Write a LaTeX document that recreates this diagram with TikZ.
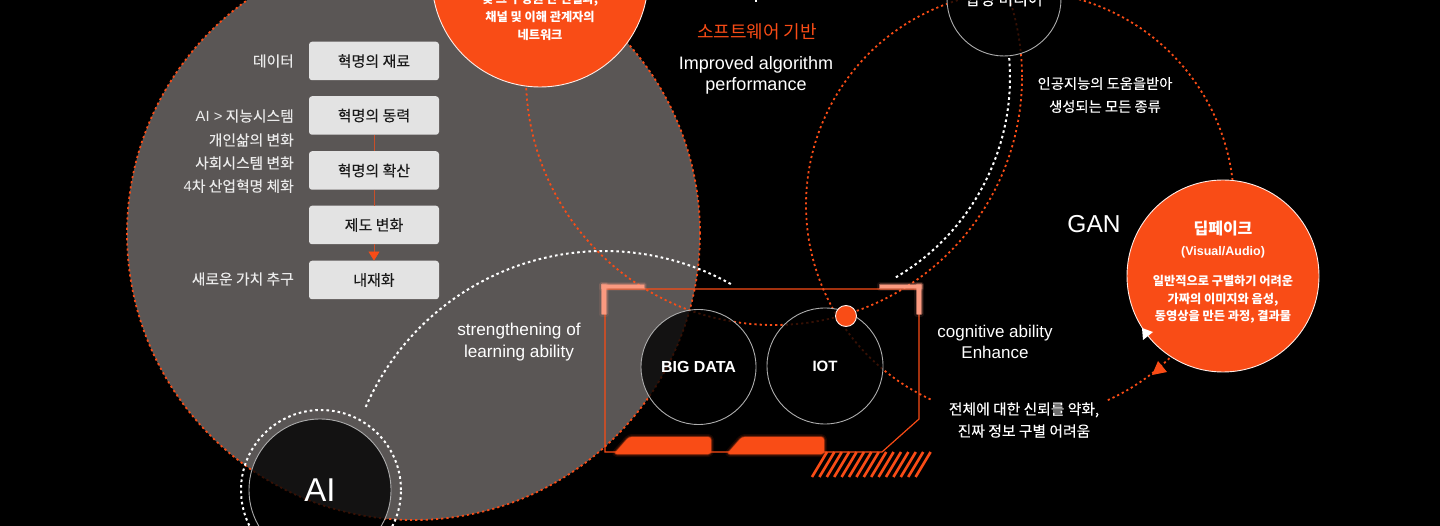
\documentclass[tikz,border=0pt]{standalone}
\usepackage{fontspec}
\usetikzlibrary{arrows.meta}
\setmainfont{Noto Sans CJK KR}[FakeBold=0.12]
\newfontfamily\krb{Noto Sans CJK KR}
\newfontfamily\la{Liberation Sans}
\definecolor{hot}{HTML}{F94C16}
\definecolor{slab}{HTML}{5A5655}
\definecolor{pale}{HTML}{E3E3E3}
\definecolor{salmon}{HTML}{FB9A80}
\newcommand{\fs}[2]{\fontsize{#1}{#2}\selectfont}
\tikzset{
  reddots/.style={draw=hot,line width=1.8pt,dash pattern=on 2.2pt off 3pt},
  whitedots/.style={draw=white,line width=2pt,dash pattern=on 2.6pt off 3pt},
  disc/.style={circle,inner sep=0pt,outer sep=0pt,fill=black,fill opacity=.78,draw=white!68!black,draw opacity=1,text opacity=1,line width=.9pt,text=white,align=center},
  solidball/.style={circle,inner sep=0pt,outer sep=0pt,fill=hot,draw=white!90!hot,line width=.9pt,text=white,align=center},
  flowbox/.style={rectangle,rounded corners=3pt,fill=pale,minimum width=130pt,minimum height=38.5pt,inner sep=0pt,text=black!90,font=\fs{15}{18}},
  sidelabel/.style={anchor=east,inner sep=0pt,text=white!92!black,font=\fs{14.8}{18}},
  caption/.style={inner sep=0pt,text=white,align=center},
  flowline/.style={draw=hot!70!slab,line width=.7pt},
  frameline/.style={draw=hot,line width=1.2pt},
  glowA/.style={draw=#1,line width=6pt,opacity=.10,line join=round},
  glowB/.style={draw=#1,line width=3pt,opacity=.22,line join=round},
  glowC/.style={draw=#1,line width=1.2pt,opacity=.5,line join=round},
}
\newcommand{\glowpath}[2]{%
  \path[glowA=#1] #2; \path[glowB=#1] #2; \path[glowC=#1] #2; \path[fill=#1] #2;}
\begin{document}
\begin{tikzpicture}[x=1pt,y=-1pt]
\useasboundingbox (0,0) rectangle (1440,526);
\clip (0,0) rectangle (1440,526);
\fill[black] (0,0) rectangle (1440,526);

% large grey field
\fill[slab] (413.5,233.5) circle[radius=286.5pt];
\draw[reddots] (413.5,233.5) circle[radius=286.5pt];

% dotted orbits
\draw[reddots] (774,77) circle[radius=248pt];
\draw[reddots] plot[domain=114.7:426,samples=160,smooth] ({1020+214*cos(\x)},{205+214*sin(\x)});
\draw[whitedots] plot[domain=-156.4:-60.3,samples=70,smooth] ({604+260*cos(\x)},{511+260*sin(\x)});
\draw[whitedots] plot[domain=-4.8:60.2,samples=50,smooth] ({778+232*cos(\x)},{77.5+232*sin(\x)});

% flow boxes
\node[flowbox] (b1) at (374,61) {혁명의 재료};
\node[flowbox] (b2) at (374,115.5) {혁명의 동력};
\node[flowbox] (b3) at (374,170.5) {혁명의 확산};
\node[flowbox] (b4) at (374,225) {제도 변화};
\node[flowbox] (b5) at (374,280) {내재화};
\draw[flowline] (b2.south) -- (b3.north);
\draw[flowline] (b3.south) -- (b4.north);
\draw[flowline,-{Triangle[width=11pt,length=9pt,color=hot]}] (b4.south) -- (b5.north);

% side labels
\node[sidelabel] (l1) at (294,61) {데이터};
\node[sidelabel] (l2) at (294,116) {{\la AI >} 지능시스템};
\node[sidelabel] (l3) at (294,140) {개인삶의 변화};
\node[sidelabel] (l4) at (294,163) {사회시스템 변화};
\node[sidelabel] (l5) at (294,186) {{\la 4}차 산업혁명 체화};
\node[sidelabel] (l6) at (294,279) {새로운 가치 추구};

% card frame
\coordinate (f1) at (605,289);
\coordinate (f2) at (919,289);
\coordinate (f3) at (919,419);
\coordinate (f4) at (882,452);
\coordinate (f5) at (605,452);
\draw[frameline] (f1) -- (f2) -- (f3) -- (f4) -- (f5) -- cycle;

% hatch
\foreach \i in {0,...,14}{
  \draw[hot,line width=2.6pt] ({812+7.4*\i},477) -- ({827+7.4*\i},452);
}

% glowing parts
\glowpath{salmon}{(602,285) rectangle (644,288.5)}
\glowpath{salmon}{(602,285) rectangle (606,314)}
\glowpath{salmon}{(880,285) rectangle (921,288.5)}
\glowpath{salmon}{(917,285) rectangle (921,314)}
\glowpath{hot}{[rounded corners=3pt] (614,454) -- (629,437) -- (711,437) -- (711,454) -- cycle}
\glowpath{hot}{[rounded corners=3pt] (727,454) -- (742,437) -- (824,437) -- (824,454) -- cycle}

% discs
\node[disc,minimum size=115pt,font=\la\bfseries\fs{16}{20}] (bigdata) at (698.5,367) {BIG DATA};
\node[disc,minimum size=116pt,font=\la\bfseries\fs{15}{20}] (iot) at (825,366) {\raisebox{-1pt}{IOT}};
\node[disc,minimum size=114pt,font=\fs{16}{20}] (synth) at (1004,-1) {합성 미디어};
\draw[whitedots] (321,490) circle[radius=80pt];
\node[disc,minimum size=142pt,font=\la\fs{33}{40}] (ai) at (320,490) {AI};
\node[solidball,minimum size=21pt] (dot) at (846,316) {};

% solid balls
\node[solidball,minimum size=216pt] (net) at (540,-21) {};
\node[caption,font=\krb\bfseries\fs{12.2}{18}] (nettext) at (540,17) {및 그 구성원 간 연결과,\\채널 및 이해 관계자의\\네트워크};
\node[solidball,minimum size=192pt] (fake) at (1223,276) {};
\node[caption,font=\krb\bfseries\fs{16}{20}] (faket1) at (1223,229) {딥페이크};
\node[caption,font=\la\bfseries\fs{12.5}{16}] (faket2) at (1223,252.5) {(Visual/Audio)};
\node[caption,font=\krb\bfseries\fs{12.2}{17.5}] (faket3) at (1223,299.5) {일반적으로 구별하기 어려운\\가짜의 이미지와 음성,\\동영상을 만든 과정, 결과물};

% arrowheads by the ball
\fill[white] (1142,328) -- (1153,332) -- (1143,340) -- cycle;
\fill[hot] (1158,361) -- (1167,372) -- (1152,375) -- cycle;

% captions
\fill[white] (755,0) rectangle (757,2);
\node[caption,text=hot,font=\krb\fs{18}{22}] (soft) at (757,32) {소프트웨어 기반};
\node[caption,font=\la\fs{18}{21}] (algo) at (756,75) {Improved algorithm\\performance};
\node[caption,font=\fs{14.3}{23}] (gen) at (1105,95) {인공지능의 도움을받아\\생성되는 모든 종류};
\node[caption,font=\la\fs{24.5}{30}] (gan) at (1094,224) {GAN};
\node[caption,font=\la\fs{17}{21}] (cog) at (995,341.5) {cognitive ability\\Enhance};
\node[caption,font=\fs{14.8}{22}] (trust) at (1024,420) {전체에 대한 신뢰를 약화,\\진짜 정보 구별 어려움};
\node[caption,font=\la\fs{17.2}{22}] (learn) at (519,342) {strengthening of\\learning ability};
\end{tikzpicture}
\end{document}
